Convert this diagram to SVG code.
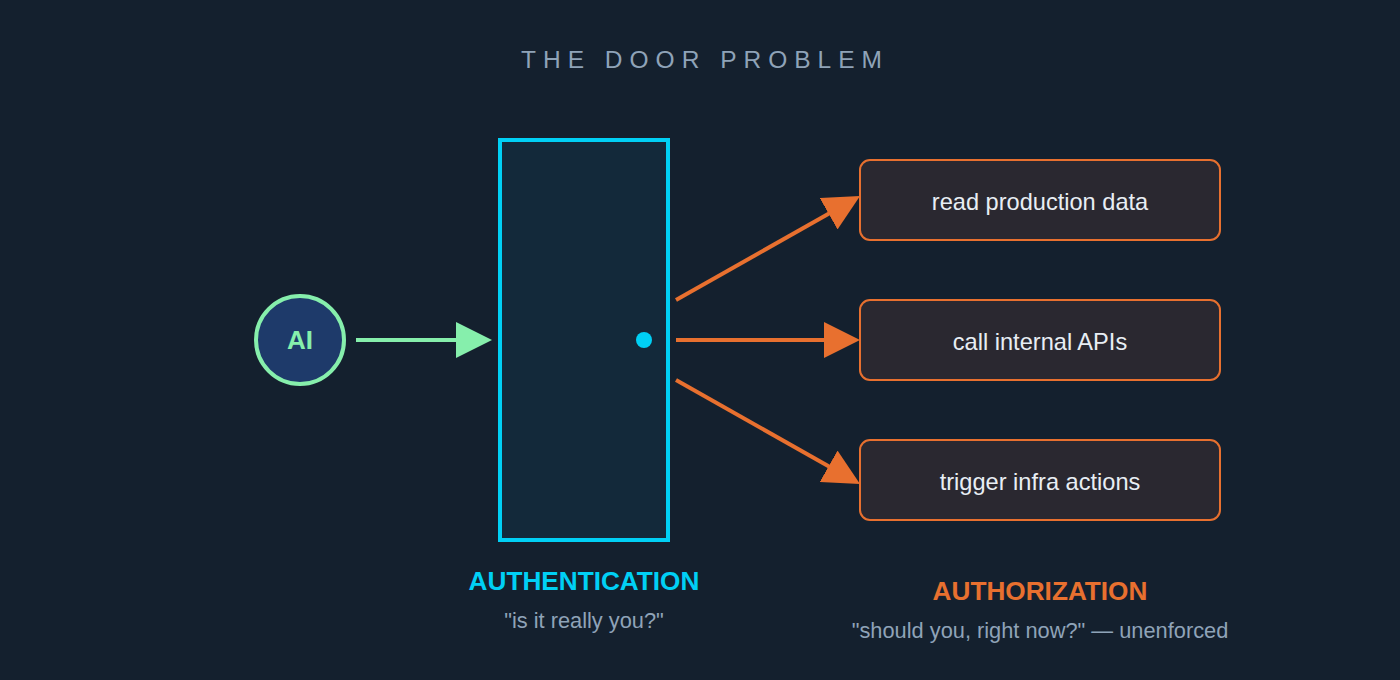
<svg xmlns="http://www.w3.org/2000/svg" width="1400" height="680" viewBox="0 0 1400 680">
<defs>
<style>
text{font-family:"Liberation Sans",Arial,sans-serif}
.title{font-size:24.5px;fill:#8fa3b8;letter-spacing:7px}
.box{fill:#2a2830;stroke:#e8702f;stroke-width:2}
.btxt{font-size:23.6px;fill:#e8eef4;text-anchor:middle}
.org{stroke:#e8702f;stroke-width:4;fill:none}
.lbl{font-size:26.2px;font-weight:bold;text-anchor:middle}
.sub{font-size:21.8px;fill:#8fa3b8;text-anchor:middle}
</style>
<marker id="hg" markerUnits="userSpaceOnUse" markerWidth="36" markerHeight="36" refX="6" refY="18" orient="auto" viewBox="0 0 36 36">
<path d="M0,0 L36,18 L0,36 Z" fill="#86efac"/>
</marker>
<marker id="ho" markerUnits="userSpaceOnUse" markerWidth="36" markerHeight="36" refX="6" refY="18" orient="auto" viewBox="0 0 36 36">
<path d="M0,0 L36,18 L0,36 Z" fill="#e8702f"/>
</marker>
</defs>
<rect width="1400" height="680" fill="#14202e"/>
<text class="title" x="705" y="68" text-anchor="middle">THE DOOR PROBLEM</text>
<g id="ai">
<circle cx="300" cy="340" r="44" fill="#1e3a6a" stroke="#86efac" stroke-width="4"/>
<text x="300" y="349" font-size="26" font-weight="bold" fill="#86efac" text-anchor="middle">AI</text>
</g>
<g id="door">
<rect x="500" y="140" width="168" height="400" fill="#13293a" stroke="#00d0f5" stroke-width="4"/>
<circle cx="644" cy="340" r="8" fill="#00d0f5"/>
</g>
<g id="read">
<rect class="box" x="860" y="160" width="360" height="80" rx="10"/>
<text class="btxt" x="1040" y="210">read production data</text>
</g>
<g id="call">
<rect class="box" x="860" y="300" width="360" height="80" rx="10"/>
<text class="btxt" x="1040" y="350">call internal APIs</text>
</g>
<g id="trigger">
<rect class="box" x="860" y="440" width="360" height="80" rx="10"/>
<text class="btxt" x="1040" y="490">trigger infra actions</text>
</g>
<g id="connectors">
<line x1="356" y1="340" x2="462" y2="340" stroke="#86efac" stroke-width="4" marker-end="url(#hg)"/>
<line class="org" x1="676" y1="300" x2="833.9" y2="210.8" marker-end="url(#ho)"/>
<line class="org" x1="676" y1="340" x2="830" y2="340" marker-end="url(#ho)"/>
<line class="org" x1="676" y1="380" x2="833.9" y2="469.2" marker-end="url(#ho)"/>
</g>
<g id="labels">
<text class="lbl" x="584" y="590" fill="#00d0f5">AUTHENTICATION</text>
<text class="sub" x="584" y="628">"is it really you?"</text>
<text class="lbl" x="1040" y="600" fill="#e8702f">AUTHORIZATION</text>
<text class="sub" x="1040" y="638">"should you, right now?" — unenforced</text>
</g>
</svg>
